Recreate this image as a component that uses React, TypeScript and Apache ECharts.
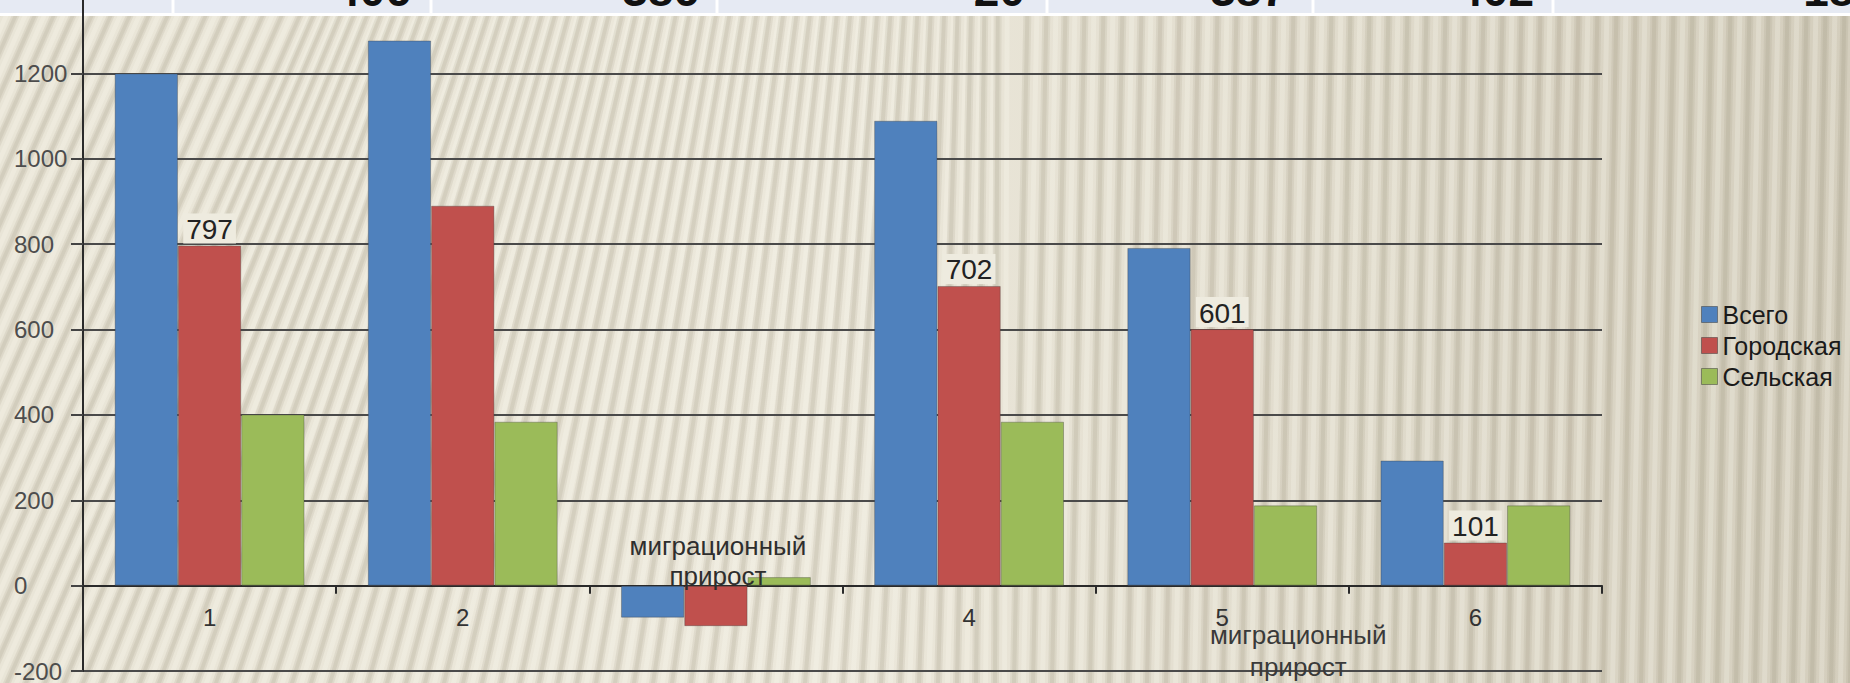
import React, { useEffect, useRef } from "react";
import * as echarts from "echarts";

// ---- data ----
const categories = ["1", "2", "", "4", "5", "6"];
const seriesNames = ["Всего", "Городская", "Сельская"];
const totalValues = [1200, 1277, -75, 1089, 791, 293];
const urbanValues = [797, 890, -95, 702, 601, 101];
const ruralValues = [401, 384, 20, 384, 188, 188];
const urbanLabelShown = [true, false, false, true, true, true];
const yMin = -200;
const yMax = 1400;
const yInterval = 200;
const annotationText = "миграционный\nприрост";
const tableValues = ["406", "386", "20", "387", "402", "189"];

// ---- layout / style ----
const W = 1850;
const H = 683;
const GRID = { left: 83, right: 248, top: -12, bottom: 12 };
const FONT = '"Liberation Sans", Arial, sans-serif';
const COLORS = ["#4f81bd", "#c0504d", "#9bbb59"];
const tableSeparators = [173, 431, 717, 1047, 1313, 1553];
const tableRight = [411, 699, 1025, 1287, 1534, 1880];

const plotW = W - GRID.left - GRID.right;
const plotH = H - GRID.top - GRID.bottom;
const xCenter = (i: number) => GRID.left + (i + 0.5) * (plotW / categories.length);
const yOf = (v: number) => GRID.top + ((yMax - v) / (yMax - yMin)) * plotH;
// category labels sit just below the zero line, while ECharts anchors them at the grid bottom
const xLabelMargin = -(yOf(yMin) - yOf(0)) + 20;

function buildBackground(): any[] {
  const els: any[] = [];
  els.push({
    type: "rect",
    z: -20,
    silent: true,
    shape: { x: 0, y: 0, width: W, height: H },
    style: {
      fill: new echarts.graphic.LinearGradient(0, 0, 1, 0, [
        { offset: 0, color: "#e9e5d7" },
        { offset: 0.45, color: "#ece8db" },
        { offset: 1, color: "#d4cebd" },
      ]),
    },
  });
  for (let xb = -320; xb < W + 40; xb += 19) {
    const lean = xb < 1000 ? 0.44 * (1 - Math.max(xb, 0) / 1000) : 0.02;
    const dx = lean * H;
    els.push({
      type: "polygon",
      z: -19,
      silent: true,
      shape: { points: [[xb, H], [xb + 8, H], [xb + 8 + dx, 0], [xb + dx, 0]] },
      style: { fill: "rgba(130,120,95,0.11)" },
    });
    els.push({
      type: "polygon",
      z: -19,
      silent: true,
      shape: { points: [[xb + 2, H], [xb + 6, H], [xb + 6 + dx, 0], [xb + 2 + dx, 0]] },
      style: { fill: "rgba(130,120,95,0.11)" },
    });
    els.push({
      type: "polygon",
      z: -19,
      silent: true,
      shape: { points: [[xb + 11, H], [xb + 16, H], [xb + 16 + dx, 0], [xb + 11 + dx, 0]] },
      style: { fill: "rgba(255,255,248,0.22)" },
    });
  }
  // top table strip
  els.push({
    type: "rect",
    z: -5,
    silent: true,
    shape: { x: 0, y: 0, width: W, height: 16 },
    style: { fill: "#ffffff" },
  });
  els.push({
    type: "rect",
    z: -5,
    silent: true,
    shape: { x: 0, y: 0, width: W, height: 13 },
    style: { fill: "#e6eaf3" },
  });
  tableSeparators.forEach((sx) => {
    els.push({
      type: "rect",
      z: -4,
      silent: true,
      shape: { x: sx - 1.5, y: 0, width: 3, height: 14 },
      style: { fill: "#ffffff" },
    });
  });
  tableValues.forEach((t, i) => {
    els.push({
      type: "text",
      z: -3,
      silent: true,
      x: tableRight[i],
      y: 13,
      style: {
        text: t,
        font: `bold 46px ${FONT}`,
        fill: "#111",
        align: "right",
        verticalAlign: "bottom",
      },
    });
  });
  return els;
}

function buildAnnotations(): any[] {
  return [
    {
      type: "text",
      z: 50,
      silent: true,
      x: xCenter(2) + 2,
      y: yOf(0) - 25,
      style: {
        text: annotationText,
        font: `26px ${FONT}`,
        fill: "#2e2e2e",
        align: "center",
        verticalAlign: "middle",
        lineHeight: 30,
      },
    },
    {
      type: "text",
      z: 50,
      silent: true,
      x: xCenter(4) + 76,
      y: yOf(0) + 65,
      style: {
        text: annotationText,
        font: `26px ${FONT}`,
        fill: "#3a3a3a",
        align: "center",
        verticalAlign: "middle",
        lineHeight: 32,
      },
    },
  ];
}

export default function App() {
  const ref = useRef<HTMLDivElement>(null);

  useEffect(() => {
    document.body.style.margin = "0";
    const chart = echarts.init(ref.current!, null, { renderer: "svg" });
    const barItemStyle = (c: string) => ({
      color: c,
      borderColor: "rgba(60,60,60,0.35)",
      borderWidth: 1,
    });
    const urbanData = urbanValues.map((v, i) =>
      urbanLabelShown[i] ? { value: v, label: { show: true } } : v
    );
    chart.setOption({
      animation: false,
      backgroundColor: "transparent",
      textStyle: { fontFamily: FONT },
      grid: {
        left: GRID.left,
        right: GRID.right,
        top: GRID.top,
        bottom: GRID.bottom,
        containLabel: false,
        outerBoundsMode: "none",
      },
      legend: {
        data: seriesNames,
        orient: "vertical",
        left: 1696,
        top: 297,
        icon: "rect",
        itemWidth: 16,
        itemHeight: 16,
        itemGap: 6,
        textStyle: { fontSize: 25, color: "#1a1a1a", fontFamily: FONT },
        itemStyle: { borderColor: "rgba(60,60,60,0.5)", borderWidth: 1 },
      },
      xAxis: {
        type: "category",
        data: categories,
        axisLine: { onZero: true, lineStyle: { color: "#2a2a2a", width: 2 } },
        axisTick: { show: true, length: 8, lineStyle: { color: "#2a2a2a", width: 2 } },
        axisLabel: { fontSize: 24, color: "#333", margin: xLabelMargin, fontFamily: FONT },
        splitLine: { show: false },
      },
      yAxis: {
        type: "value",
        min: yMin,
        max: yMax,
        interval: yInterval,
        axisLine: { show: true, lineStyle: { color: "#2a2a2a", width: 2 } },
        axisTick: { show: true, length: 12, lineStyle: { color: "#444", width: 2 } },
        axisLabel: {
          fontSize: 24,
          color: "#4d4d4d",
          align: "left",
          margin: 69,
          fontFamily: FONT,
          formatter: (v: number) => String(v),
        },
        splitLine: { show: true, lineStyle: { color: "#4a4a4a", width: 2 } },
      },
      series: [
        {
          name: seriesNames[0],
          type: "bar",
          data: totalValues,
          barGap: "0%",
          barCategoryGap: "25%",
          itemStyle: barItemStyle(COLORS[0]),
        },
        {
          name: seriesNames[1],
          type: "bar",
          data: urbanData,
          barGap: "0%",
          barCategoryGap: "25%",
          itemStyle: barItemStyle(COLORS[1]),
          label: {
            show: false,
            position: "top",
            distance: 2,
            fontSize: 28,
            color: "#222",
            fontFamily: FONT,
            backgroundColor: "#eeebdf",
            padding: [2, 3, 0, 3],
          },
        },
        {
          name: seriesNames[2],
          type: "bar",
          data: ruralValues,
          barGap: "0%",
          barCategoryGap: "25%",
          itemStyle: barItemStyle(COLORS[2]),
        },
      ],
      graphic: { elements: [...buildBackground(), ...buildAnnotations()] },
    });
    return () => chart.dispose();
  }, []);

  return (
    <div
      ref={ref}
      style={{ position: "absolute", left: 0, top: 0, width: W, height: H, overflow: "hidden" }}
    />
  );
}
